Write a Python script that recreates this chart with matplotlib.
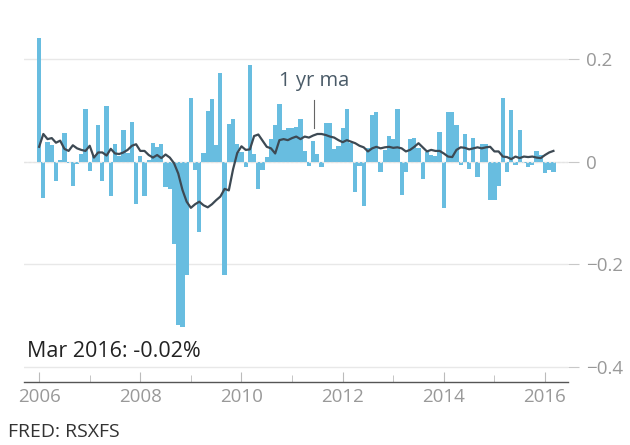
import numpy as np
import matplotlib
matplotlib.use("Agg")
import matplotlib.pyplot as plt
from matplotlib.ticker import MultipleLocator, FixedLocator

plt.rcParams['font.family'] = ['Open Sans', 'DejaVu Sans']

# monthly change, Jan 2006 .. Mar 2016
start_year = 2006
change = [
    0.241, -0.071, 0.038, 0.033, -0.037, 0.004, 0.055, -0.003, -0.047, -0.005,
    0.015, 0.103, -0.018, 0.012, 0.071, -0.038, 0.109, -0.066, 0.035, 0.012,
    0.062, 0.016, 0.077, -0.083, 0.011, -0.066, 0.003, 0.036, 0.029, 0.034,
    -0.049, -0.054, -0.160, -0.318, -0.322, -0.221, 0.124, -0.016, -0.137, 0.016,
    0.099, 0.122, 0.033, 0.172, -0.220, 0.073, 0.083, 0.034, 0.018, -0.010,
    0.189, 0.015, -0.054, -0.016, 0.010, 0.045, 0.072, 0.112, 0.062, 0.065,
    0.066, 0.068, 0.083, 0.020, -0.008, 0.040, 0.015, -0.011, 0.075, 0.075,
    0.024, 0.030, 0.065, 0.103, 0.036, -0.059, -0.008, -0.086, 0.026, 0.092,
    0.096, -0.020, 0.023, 0.050, 0.044, 0.103, -0.064, -0.021, 0.044, 0.046,
    0.026, -0.033, 0.018, 0.013, 0.012, 0.057, -0.091, 0.096, 0.096, 0.071,
    -0.007, 0.054, -0.014, 0.047, -0.029, 0.034, 0.034, -0.075, -0.075, -0.047,
    0.124, -0.021, 0.100, -0.007, 0.062, -0.003, -0.011, -0.007, 0.021, 0.013,
    -0.023, -0.016, -0.020,
]

# 1 yr moving average as drawn
ma = [
    0.029, 0.054, 0.044, 0.046, 0.037, 0.041, 0.025, 0.021, 0.032, 0.026,
    0.023, 0.021, 0.031, 0.008, 0.018, 0.018, 0.012, 0.025, 0.016, 0.015,
    0.018, 0.023, 0.031, 0.034, 0.021, 0.021, 0.013, 0.008, 0.013, 0.007,
    0.014, 0.008, -0.003, -0.023, -0.055, -0.078, -0.090, -0.083, -0.078, -0.085,
    -0.089, -0.083, -0.075, -0.068, -0.053, -0.056, -0.015, 0.017, 0.030, 0.023,
    0.024, 0.050, 0.053, 0.041, 0.029, 0.026, 0.016, 0.042, 0.044, 0.042,
    0.046, 0.049, 0.044, 0.049, 0.047, 0.051, 0.054, 0.054, 0.052, 0.049,
    0.047, 0.042, 0.038, 0.042, 0.039, 0.036, 0.031, 0.028, 0.020, 0.026,
    0.029, 0.026, 0.028, 0.029, 0.027, 0.028, 0.026, 0.020, 0.023, 0.029,
    0.036, 0.028, 0.020, 0.023, 0.021, 0.021, 0.016, 0.010, 0.009, 0.023,
    0.028, 0.027, 0.024, 0.026, 0.028, 0.026, 0.028, 0.029, 0.020, 0.020,
    0.010, 0.009, 0.005, 0.010, 0.007, 0.010, 0.009, 0.010, 0.008, 0.007,
    0.013, 0.018, 0.021,
]

y_ticks = [0.2, 0, -0.2, -0.4]
y_labels = ['0.2', '0', '\u22120.2', '\u22120.4']
year_labels = [2006, 2008, 2010, 2012, 2014, 2016]

x = start_year + np.arange(len(change)) / 12

fig = plt.figure(figsize=(6.3, 4.45), dpi=100)
ax = fig.add_axes([0.038, 0.1416, 0.8636, 0.791])

for yv in y_ticks:
    ax.axhline(yv, color='#e8e8e8', lw=1, zorder=0)

ax.bar(x, change, width=1/12, color='#68bde0', linewidth=0, zorder=2)
ax.axhline(0, color='#e4e4e4', lw=0.8, ls=(0, (2, 2)), zorder=3)
ax.plot(x, ma, color='#3d4953', lw=1.6, zorder=4)

# label for the moving average
lx = 2011.43
ax.plot([lx, lx], [0.066, 0.120], color='#666666', lw=0.8, zorder=4)
ax.text(lx, 0.158, '1 yr ma', ha='center', va='center', fontsize=14.5,
        color='#4a5b68')

ax.set_xlim(2005.70, 2016.455)
ax.set_ylim(-0.4296, 0.2568)

for s in ['left', 'right', 'top']:
    ax.spines[s].set_visible(False)
ax.spines['bottom'].set_color('#555555')
ax.spines['bottom'].set_linewidth(1)

ax.xaxis.set_major_locator(FixedLocator(year_labels))
ax.set_xticklabels([str(y) for y in year_labels])
ax.xaxis.set_minor_locator(MultipleLocator(1))
ax.tick_params(axis='x', which='major', direction='in', length=7,
               color='#bbbbbb', labelcolor='#999999', labelsize=13.5, pad=4)
ax.tick_params(axis='x', which='minor', direction='in', length=5,
               color='#bbbbbb')

ax.yaxis.tick_right()
ax.set_yticks(y_ticks)
ax.set_yticklabels(y_labels)
ax.tick_params(axis='y', direction='out', length=8, color='#c8c8c8',
               labelcolor='#999999', labelsize=13.5, pad=5)

fig.text(0.043, 0.209, 'Mar 2016: -0.02%', ha='left', va='center',
         fontsize=15.5, color='#222222')
fig.text(0.012, 0.029, 'FRED: RSXFS', ha='left', va='center',
         fontsize=14, color='#333333')

fig.savefig('out.png', dpi=100)
